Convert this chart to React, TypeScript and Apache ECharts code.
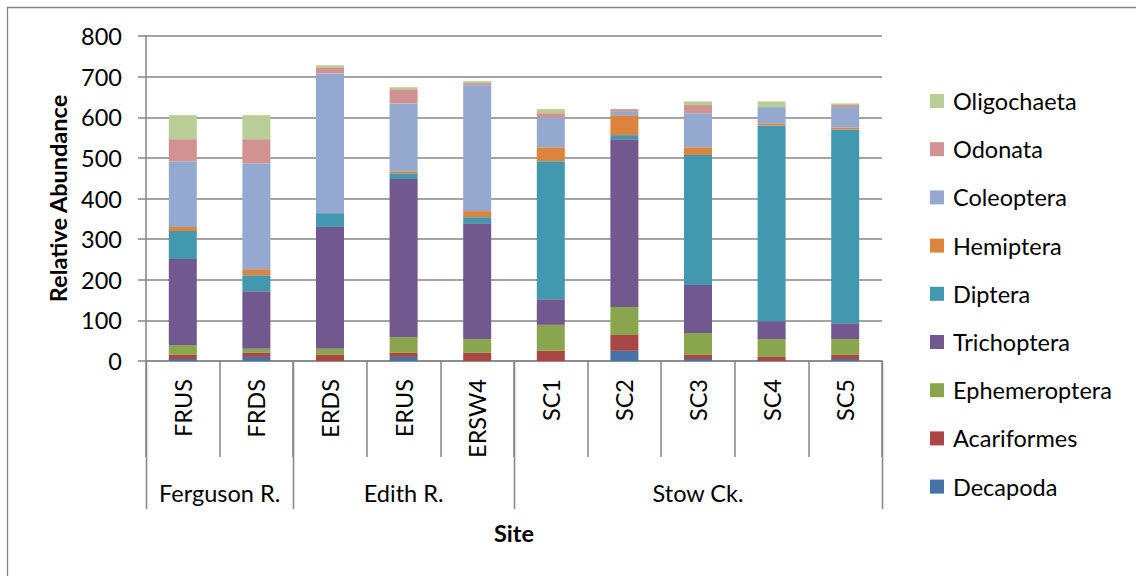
import React, { useEffect, useRef } from "react";
import * as echarts from "echarts";

const sites = ["FRUS", "FRDS", "ERDS", "ERUS", "ERSW4", "SC1", "SC2", "SC3", "SC4", "SC5"];
const groups = ["Ferguson R.", "Edith R.", "Stow Ck."];
const groupSizes = [2, 3, 5];

const decapoda = [5, 10, 0, 10, 0, 0, 25, 5, 0, 5];
const acariformes = [10, 10, 15, 10, 20, 25, 39, 10, 10, 10];
const ephemeroptera = [24, 10, 15, 39, 34, 64, 69, 54, 44, 39];
const trichoptera = [212, 142, 300, 389, 285, 63, 413, 118, 44, 39];
const diptera = [69, 39, 34, 14, 15, 340, 10, 320, 482, 477];
const hemiptera = [10, 15, 0, 5, 15, 34, 49, 19, 5, 5];
const coleoptera = [162, 261, 344, 167, 310, 74, 10, 84, 40, 50];
const odonata = [54, 59, 15, 35, 5, 10, 5, 20, 0, 5];
const oligochaeta = [59, 59, 5, 5, 5, 10, 0, 9, 14, 4];

const seriesDefs = [
  { name: "Decapoda", data: decapoda, color: "#4572A7" },
  { name: "Acariformes", data: acariformes, color: "#AA4643" },
  { name: "Ephemeroptera", data: ephemeroptera, color: "#89A54E" },
  { name: "Trichoptera", data: trichoptera, color: "#71588F" },
  { name: "Diptera", data: diptera, color: "#4198AF" },
  { name: "Hemiptera", data: hemiptera, color: "#DB843D" },
  { name: "Coleoptera", data: coleoptera, color: "#93A9CF" },
  { name: "Odonata", data: odonata, color: "#D19392" },
  { name: "Oligochaeta", data: oligochaeta, color: "#B9CD96" },
];

const FONT = "Lato";
const FS = 23.5;
const GREY = "#868686";

export default function App() {
  const ref = useRef<HTMLDivElement>(null);
  useEffect(() => {
    if (!ref.current) return;
    const chart = echarts.init(ref.current, null, { renderer: "svg" });
    const option: any = {
      animation: false,
      textStyle: { fontFamily: FONT, color: "#000" },
      grid: { left: 146, right: 254, top: 36, bottom: 215, containLabel: false },
      legend: {
        orient: "vertical",
        left: 925,
        top: 84,
        itemWidth: 14,
        itemHeight: 14,
        itemGap: 24.2,
        icon: "rect",
        data: seriesDefs.map((s) => s.name).reverse(),
        textStyle: { fontFamily: FONT, fontSize: FS, color: "#000", padding: [0, 0, 0, 4] },
      },
      xAxis: {
        type: "category",
        data: sites,
        boundaryGap: true,
        name: "Site",
        nameLocation: "middle",
        nameGap: 160,
        nameTextStyle: { fontFamily: FONT, fontSize: FS, fontWeight: "bold", color: "#000" },
        axisLine: { lineStyle: { color: GREY, width: 1.5 } },
        axisTick: { show: true, length: 96, interval: 0, lineStyle: { color: GREY, width: 1.5 } },
        axisLabel: { rotate: 90, margin: 18, interval: 0, fontFamily: FONT, fontSize: FS, color: "#000" },
      },
      yAxis: {
        type: "value",
        min: 0,
        max: 800,
        interval: 100,
        name: "Relative Abundance",
        nameLocation: "middle",
        nameGap: 76,
        nameRotate: 90,
        nameTextStyle: { fontFamily: FONT, fontSize: FS, fontWeight: "bold", color: "#000" },
        axisLine: { show: true, lineStyle: { color: GREY, width: 1.5 } },
        axisTick: { show: true, length: 8, lineStyle: { color: GREY, width: 1.5 } },
        axisLabel: { margin: 24, fontFamily: FONT, fontSize: FS, color: "#000" },
        splitLine: { show: true, lineStyle: { color: GREY, width: 1.5 } },
      },
      series: seriesDefs.map((s) => ({
        name: s.name,
        type: "bar",
        stack: "total",
        barWidth: 28,
        data: s.data,
        itemStyle: { color: s.color },
      })),
    };
    chart.setOption(option);

    const axisY = chart.convertToPixel({ yAxisIndex: 0 }, 0) as number;
    const c0 = chart.convertToPixel({ xAxisIndex: 0 }, sites[0]) as number;
    const c1 = chart.convertToPixel({ xAxisIndex: 0 }, sites[1]) as number;
    const step = c1 - c0;
    const boundary = (i: number) => c0 - step / 2 + i * step;
    const elements: any[] = [
      {
        type: "rect",
        shape: { x: 7.5, y: 7.5, width: 1300, height: 700 },
        style: { fill: "none", stroke: GREY, lineWidth: 1.3 },
        silent: true,
      },
    ];
    let start = 0;
    const idx = [0];
    groupSizes.forEach((n) => {
      start += n;
      idx.push(start);
    });
    idx.forEach((i) => {
      const x = Math.round(boundary(i)) + 0.5;
      elements.push({
        type: "line",
        shape: { x1: x, y1: axisY, x2: x, y2: axisY + 148 },
        style: { stroke: GREY, lineWidth: 1.5 },
        silent: true,
      });
    });
    groups.forEach((g, k) => {
      const cx = (boundary(idx[k]) + boundary(idx[k + 1])) / 2;
      elements.push({
        type: "text",
        x: cx,
        y: axisY + 132,
        style: {
          text: g,
          fontFamily: FONT,
          fontSize: FS,
          fill: "#000",
          align: "center",
          verticalAlign: "middle",
        },
        silent: true,
      });
    });
    chart.setOption({ graphic: { elements } });

    return () => chart.dispose();
  }, []);
  return (
    <div
      ref={ref}
      style={{ position: "fixed", left: 0, top: 0, width: 1136, height: 576, background: "#fff" }}
    />
  );
}
